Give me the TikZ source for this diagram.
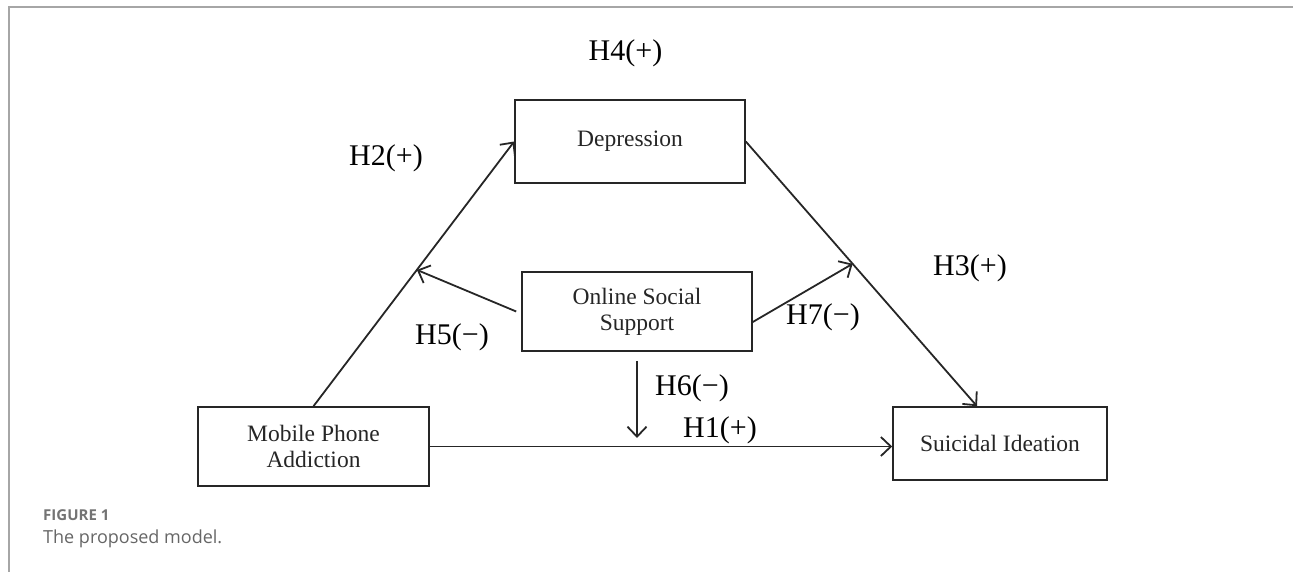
\documentclass[tikz,border=0pt]{standalone}
\usepackage{fontspec}
\setmainfont{Liberation Serif}
\setsansfont{Open Sans}
\usetikzlibrary{positioning,calc,arrows.meta}

\begin{document}
\begin{tikzpicture}[x=1pt, y=-1pt,
  box/.style={draw=black!85, line width=1.6pt, align=center, inner sep=0pt,
    font=\fontsize{23.5}{26}\selectfont, text=black!85},
  link/.style={line width=1.8pt, draw=black!85,
    -{Straight Barb[length=10pt, width=19pt, line width=1.8pt]}},
  hyp/.style={font=\fontsize{30}{32}\selectfont, inner sep=0pt}]
  \useasboundingbox (0,0) rectangle (1293,572);

  % Frame
  \draw[black!35, line width=1.2pt] (1293,7) -- (9,7) -- (9,572);

  % Constructs
  \node[box, minimum width=230pt, minimum height=83pt] (dep) at (630,141.5) {Depression};
  \node[box, minimum width=230pt, minimum height=79pt] (oss) at (637,311.5) {Online Social\\Support};
  \node[box, minimum width=231pt, minimum height=79pt] (mpa) at (313.5,446.5) {Mobile Phone\\Addiction};
  \node[box, minimum width=214pt, minimum height=73pt] (si) at (1000,443.5) {Suicidal Ideation};

  % Direct and mediated paths
  \coordinate (sitop) at ($(si.north)+(-23,0)$);
  \draw[link] (mpa.north) -- (dep.west);
  \draw[link] (dep.east) -- (sitop);
  \draw[link] (mpa.east) -- (mpa.east -| si.west);

  % Moderation by online social support
  \coordinate (h5tip) at ($(mpa.north)!0.515!(dep.west)$);
  \coordinate (h7tip) at ($(dep.east)!0.462!(sitop)$);
  \coordinate (h6tip) at (637,438);
  \draw[link] ($(oss.west)+(-5,0)$) -- (h5tip);
  \draw[link] ($(oss.east)+(0,10.5)$) -- (h7tip);
  \draw[link] ($(oss.south)+(0,9)$) -- (h6tip);

  % Hypotheses
  \node[hyp] (lh4) at (625.5,53) {H4(+)};
  \node[hyp] (lh2) at (386,158) {H2(+)};
  \node[hyp] (lh3) at (970,268) {H3(+)};
  \node[hyp] (lh5) at (452,337) {H5(−)};
  \node[hyp] (lh7) at (823,317) {H7(−)};
  \node[hyp] (lh6) at (692,388) {H6(−)};
  \node[hyp] (lh1) at (720,430) {H1(+)};

  % Caption
  \node[anchor=base west, inner sep=0pt, text=black!55,
    font=\sffamily\bfseries\fontsize{15}{17}\selectfont] (fig) at (43,520) {FIGURE 1};
  \node[anchor=base west, inner sep=0pt, text=black!60,
    font=\sffamily\fontsize{18}{20}\selectfont] (cap) at (43,543) {The proposed model.};
\end{tikzpicture}
\end{document}
